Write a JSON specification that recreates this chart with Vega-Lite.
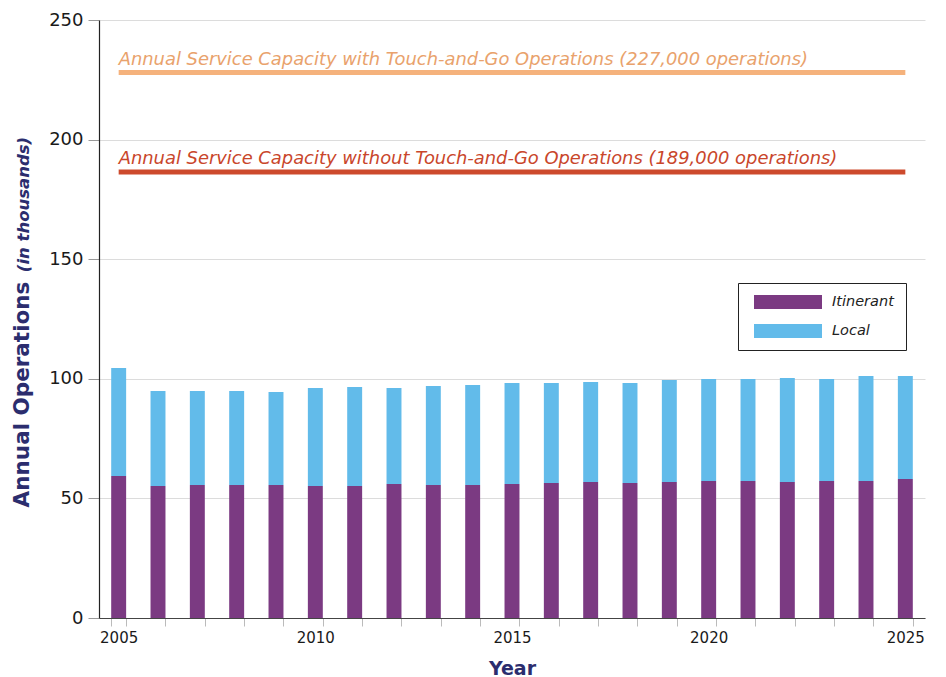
{
  "$schema": "https://vega.github.io/schema/vega-lite/v6.json",
  "width": 826,
  "height": 598,
  "autosize": {"type": "none"},
  "padding": {"left": 99, "top": 20, "right": 21, "bottom": 59},
  "background": "white",
  "config": {"view": {"stroke": null}, "font": "DejaVu Sans"},
  "datasets": {
    "ops": [
      {"year": 2005, "type": "Itinerant", "ops": 59.4}, {"year": 2005, "type": "Local", "ops": 45.1},
      {"year": 2006, "type": "Itinerant", "ops": 55.2}, {"year": 2006, "type": "Local", "ops": 39.7},
      {"year": 2007, "type": "Itinerant", "ops": 55.6}, {"year": 2007, "type": "Local", "ops": 39.3},
      {"year": 2008, "type": "Itinerant", "ops": 55.6}, {"year": 2008, "type": "Local", "ops": 39.3},
      {"year": 2009, "type": "Itinerant", "ops": 55.6}, {"year": 2009, "type": "Local", "ops": 38.9},
      {"year": 2010, "type": "Itinerant", "ops": 55.2}, {"year": 2010, "type": "Local", "ops": 41.0},
      {"year": 2011, "type": "Itinerant", "ops": 55.2}, {"year": 2011, "type": "Local", "ops": 41.4},
      {"year": 2012, "type": "Itinerant", "ops": 56.0}, {"year": 2012, "type": "Local", "ops": 40.2},
      {"year": 2013, "type": "Itinerant", "ops": 55.6}, {"year": 2013, "type": "Local", "ops": 41.4},
      {"year": 2014, "type": "Itinerant", "ops": 55.6}, {"year": 2014, "type": "Local", "ops": 41.8},
      {"year": 2015, "type": "Itinerant", "ops": 56.0}, {"year": 2015, "type": "Local", "ops": 42.2},
      {"year": 2016, "type": "Itinerant", "ops": 56.4}, {"year": 2016, "type": "Local", "ops": 41.8},
      {"year": 2017, "type": "Itinerant", "ops": 56.9}, {"year": 2017, "type": "Local", "ops": 41.8},
      {"year": 2018, "type": "Itinerant", "ops": 56.4}, {"year": 2018, "type": "Local", "ops": 41.8},
      {"year": 2019, "type": "Itinerant", "ops": 56.9}, {"year": 2019, "type": "Local", "ops": 42.6},
      {"year": 2020, "type": "Itinerant", "ops": 57.3}, {"year": 2020, "type": "Local", "ops": 42.6},
      {"year": 2021, "type": "Itinerant", "ops": 57.3}, {"year": 2021, "type": "Local", "ops": 42.6},
      {"year": 2022, "type": "Itinerant", "ops": 56.9}, {"year": 2022, "type": "Local", "ops": 43.4},
      {"year": 2023, "type": "Itinerant", "ops": 57.3}, {"year": 2023, "type": "Local", "ops": 42.6},
      {"year": 2024, "type": "Itinerant", "ops": 57.3}, {"year": 2024, "type": "Local", "ops": 43.9},
      {"year": 2025, "type": "Itinerant", "ops": 58.1}, {"year": 2025, "type": "Local", "ops": 43.1}
    ],
    "cap": [
      {"series": "with", "value": 228, "start": 2005, "end": 2025, "label": "Annual Service Capacity with Touch-and-Go Operations (227,000 operations)"},
      {"series": "without", "value": 186.5, "start": 2005, "end": 2025, "label": "Annual Service Capacity without Touch-and-Go Operations (189,000 operations)"}
    ]
  },
  "layer": [
    {
      "data": {"name": "ops"},
      "mark": {"type": "bar"},
      "encoding": {
        "x": {
          "field": "year", "type": "ordinal",
          "scale": {"domain": [2005,2006,2007,2008,2009,2010,2011,2012,2013,2014,2015,2016,2017,2018,2019,2020,2021,2022,2023,2024,2025], "paddingInner": 0.62, "paddingOuter": 0.31},
          "axis": {
            "title": "Year", "titleFont": "DejaVu Sans", "titleFontSize": 19, "titleFontWeight": "bold", "titleColor": "#2b2d6e",
            "titleY": 56, "titleBaseline": "alphabetic",
            "labelAngle": 0, "labelExpr": "datum.value % 5 === 0 ? datum.label : ''", "labelOverlap": false,
            "labelFont": "DejaVu Sans", "labelFontSize": 15, "labelColor": "#1a1a1a", "labelPadding": 4,
            "tickBand": "extent", "tickSize": 8, "tickColor": "#bbbbbb", "domainColor": "#444444", "domainWidth": 1.2
          }
        },
        "y": {
          "field": "ops", "type": "quantitative", "stack": "zero",
          "scale": {"domain": [0, 250], "nice": false, "zero": true},
          "axis": {
            "title": "Annual Operations", "titleFont": "DejaVu Sans", "titleFontSize": 21.5, "titleFontWeight": "bold", "titleColor": "#2b2d6e",
            "titleAngle": 270, "titleX": -71, "titleY": 374, "titleAlign": "center", "titleBaseline": "alphabetic",
            "values": [0, 50, 100, 150, 200, 250],
            "labelFont": "DejaVu Sans", "labelFontSize": 18, "labelColor": "#1a1a1a", "labelPadding": 5,
            "tickSize": 11, "tickColor": "#999999", "domainColor": "#222222", "domainWidth": 1.2,
            "grid": true, "gridColor": "#dcdcdc", "gridWidth": 1
          }
        },
        "color": {
          "field": "type", "type": "nominal",
          "scale": {"domain": ["Itinerant", "Local"], "range": ["#7b3a82", "#62bbea"]},
          "legend": {
            "title": null, "orient": "none", "legendX": 639, "legendY": 263, "direction": "vertical",
            "symbolType": "M-1,-0.206H1V0.206H-1Z", "symbolSize": 4624, "symbolStrokeWidth": 0,
            "clipHeight": 14, "rowPadding": 14, "padding": 12, "symbolOffset": 4, "labelOffset": 10,
            "labelFont": "DejaVu Sans", "labelFontStyle": "italic", "labelFontSize": 14.5, "labelColor": "#222222",
            "strokeColor": "#222222", "fillColor": "white", "cornerRadius": 0
          }
        },
        "order": {"field": "type", "type": "nominal", "sort": "ascending"}
      }
    },
    {
      "data": {"name": "cap"},
      "mark": {"type": "rule", "strokeWidth": 5},
      "encoding": {
        "x": {"field": "start", "type": "ordinal"},
        "x2": {"field": "end"},
        "y": {
          "field": "value", "type": "quantitative",
          "scale": {"domain": [0, 250], "nice": false},
          "axis": {
            "title": "(in thousands)", "orient": "left", "labels": false, "ticks": false, "domain": false, "grid": false,
            "titleFont": "DejaVu Sans", "titleFontSize": 16.5, "titleFontWeight": "bold", "titleFontStyle": "italic", "titleColor": "#2b2d6e",
            "titleAngle": 270, "titleX": -71, "titleY": 184, "titleAlign": "center", "titleBaseline": "alphabetic"
          }
        },
        "stroke": {"field": "series", "type": "nominal", "scale": {"domain": ["with", "without"], "range": ["#f5b27c", "#cd4a2d"]}, "legend": null}
      }
    },
    {
      "data": {"name": "cap"},
      "mark": {"type": "text", "align": "left", "baseline": "alphabetic", "dy": -8, "font": "DejaVu Sans", "fontStyle": "italic", "fontSize": 17.9},
      "encoding": {
        "x": {"field": "start", "type": "ordinal"},
        "y": {"field": "value", "type": "quantitative", "scale": {"domain": [0, 250], "nice": false}, "axis": null},
        "text": {"field": "label"},
        "fill": {"field": "series", "type": "nominal", "scale": {"domain": ["with", "without"], "range": ["#e9a26c", "#c9462b"]}, "legend": null}
      }
    }
  ],
  "resolve": {"axis": {"y": "independent"}}
}
